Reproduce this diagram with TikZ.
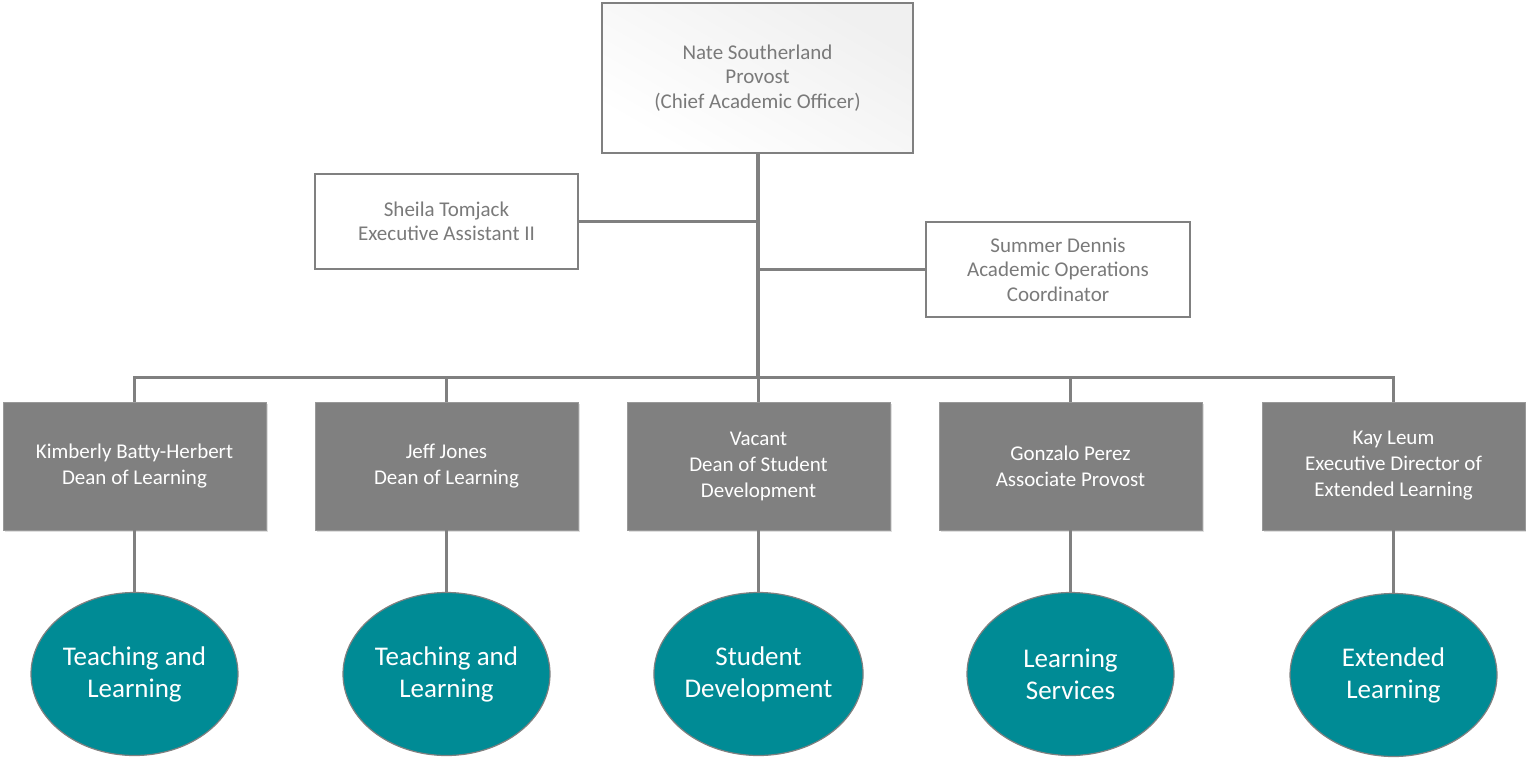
\documentclass[tikz,border=0pt]{standalone}
\usepackage{fontspec}
\setmainfont{Carlito}
\usetikzlibrary{shapes.geometric,shadows}
\definecolor{lgray}{HTML}{808080}
\definecolor{tgray}{HTML}{7A7A7A}
\definecolor{teal1}{HTML}{008B95}
\tikzset{
  whitebox/.style={draw=lgray, line width=1.6pt, fill=white, align=center, text=tgray,
    font=\fontsize{21}{24.5}\selectfont, inner sep=0pt},
  deanbox/.style={draw=lgray!80, line width=0.8pt, fill=lgray, align=center, text=white,
    font=\fontsize{21}{26}\selectfont, inner sep=0pt, minimum width=263pt, minimum height=128pt,
    drop shadow={shadow xshift=1.5pt, shadow yshift=-1.5pt, opacity=0.25}},
  unitell/.style={ellipse, draw=lgray, line width=1.2pt, fill=teal1, align=center, text=white,
    font=\fontsize{27}{32}\selectfont, inner sep=0pt, minimum width=207pt, minimum height=163pt},
  trunk/.style={draw=lgray, line width=4pt},
  link/.style={draw=lgray, line width=3pt},
}
\begin{document}
\begin{tikzpicture}[x=1pt,y=-1pt]
\useasboundingbox (0,0) rectangle (1526,760);
% top
\node[whitebox, minimum width=311pt, minimum height=150pt, top color=gray!12, bottom color=white, shading angle=-30] (top) at (757.5,78) {Nate Southerland\\Provost\\(Chief Academic Officer)};
\node[whitebox, minimum width=263pt, minimum height=95pt] (sh) at (446.5,221.5) {Sheila Tomjack\\Executive Assistant II};
\node[whitebox, minimum width=264pt, minimum height=95pt] (su) at (1058,269.5) {Summer Dennis\\Academic Operations\\Coordinator};
\coordinate (bus) at (757.5,377);
% deans
\node[deanbox] (d1) at (134.5,466) {Kimberly Batty-Herbert\\Dean of Learning};
\node[deanbox] (d2) at (446.5,466) {Jeff Jones\\Dean of Learning};
\node[deanbox] (d3) at (758.5,466) {Vacant\\Dean of Student\\Development};
\node[deanbox] (d4) at (1070.5,466) {Gonzalo Perez\\Associate Provost};
\node[deanbox] (d5) at (1393.5,466) {Kay Leum\\Executive Director of\\Extended Learning};
% units
\node[unitell] (u1) at (134.5,674) {Teaching and\\Learning};
\node[unitell] (u2) at (446.5,674) {Teaching and\\Learning};
\node[unitell] (u3) at (758.5,674) {Student\\Development};
\node[unitell] (u4) at (1070.5,674) {Learning\\Services};
\node[unitell] (u5) at (1393.5,675) {Extended\\Learning};
% connectors
\draw[trunk] (top.south) -- (bus);
\draw[link] (sh.east) -- (sh.east -| top.south);
\draw[link] (su.west) -- (su.west -| top.south);
\draw[link] (d1.north) |- (bus) -| (d5.north);
\draw[link] (d2.north) -- (d2.north |- bus);
\draw[link] (d3.north) -- (d3.north |- bus);
\draw[link] (d4.north) -- (d4.north |- bus);
\foreach \i in {1,...,5} {\draw[link] (d\i.south) -- (u\i.north);}
\end{tikzpicture}
\end{document}
